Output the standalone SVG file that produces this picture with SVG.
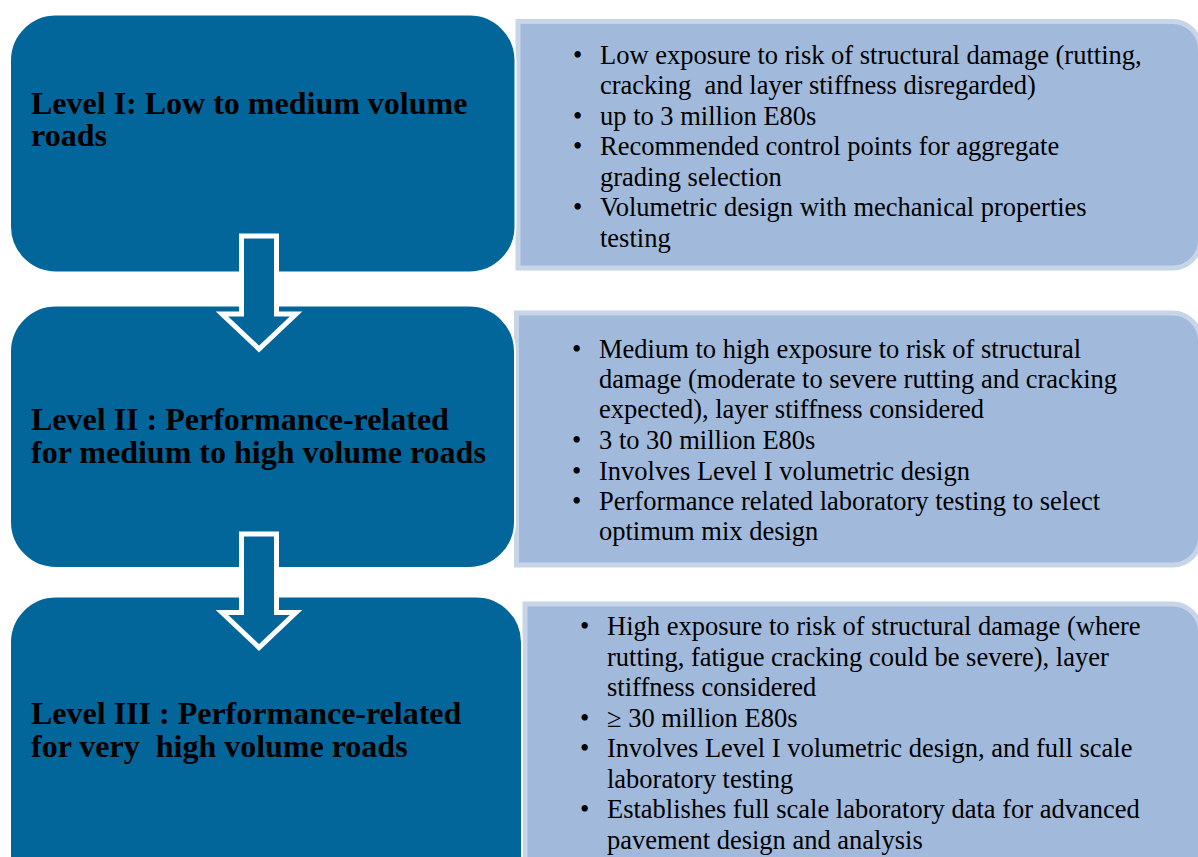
<svg xmlns="http://www.w3.org/2000/svg" width="1198" height="857" viewBox="0 0 1198 857">
  <style>
    .detail { fill: #a1b9da; stroke: #c8d4e8; stroke-width: 5; }
    .level { fill: #03669a; stroke: #ffffff; stroke-width: 2; }
    .title { font-family: "Liberation Serif", "Times New Roman", serif; font-weight: bold; font-size: 32px; fill: #000; white-space: pre; }
    .item { font-family: "Liberation Serif", "Times New Roman", serif; font-size: 26.5px; fill: #000; white-space: pre; }
    .arrow { fill: #03669a; stroke: #ffffff; stroke-width: 5; stroke-linejoin: miter; }
  </style>

  <rect width="1198" height="857" fill="#ffffff"/>

  <!-- Level I -->
  <g id="level1-details">
    <path class="detail" d="M518,21.5 H1172 A28,28 0 0 1 1200.5,49.5 V240 A28,28 0 0 1 1172,268 H518 Z"/>
    <g class="item">
      <text x="573" y="63.5">•</text>
      <text x="600" y="63.5">Low exposure to risk of structural damage (rutting,</text>
      <text x="600" y="94" xml:space="preserve">cracking  and layer stiffness disregarded)</text>
      <text x="573" y="124.5">•</text>
      <text x="600" y="124.5">up to 3 million E80s</text>
      <text x="573" y="155">•</text>
      <text x="600" y="155">Recommended control points for aggregate</text>
      <text x="600" y="185.5">grading selection</text>
      <text x="573" y="216">•</text>
      <text x="600" y="216">Volumetric design with mechanical properties</text>
      <text x="600" y="246.5">testing</text>
    </g>
  </g>
  <g id="level1">
    <rect class="level" x="10" y="14.5" width="505.5" height="258" rx="46" ry="46"/>
    <text class="title" x="31" y="114">Level I: Low to medium volume</text>
    <text class="title" x="31" y="146">roads</text>
  </g>

  <!-- Level II -->
  <g id="level2-details">
    <path class="detail" d="M516.5,313 H1172 A28,28 0 0 1 1200.5,341 V537 A28,28 0 0 1 1172,565 H516.5 Z"/>
    <g class="item">
      <text x="572" y="357.5">•</text>
      <text x="599" y="357.5">Medium to high exposure to risk of structural</text>
      <text x="599" y="388">damage (moderate to severe rutting and cracking</text>
      <text x="599" y="418">expected), layer stiffness considered</text>
      <text x="572" y="448.5">•</text>
      <text x="599" y="448.5">3 to 30 million E80s</text>
      <text x="572" y="479.5">•</text>
      <text x="599" y="479.5">Involves Level I volumetric design</text>
      <text x="572" y="510">•</text>
      <text x="599" y="510">Performance related laboratory testing to select</text>
      <text x="599" y="540">optimum mix design</text>
    </g>
  </g>
  <g id="level2">
    <rect class="level" x="10" y="305.5" width="505" height="262.5" rx="46" ry="46"/>
    <text class="title" x="31" y="430">Level II : Performance-related</text>
    <text class="title" x="31" y="463">for medium to high volume roads</text>
  </g>

  <!-- Level III -->
  <g id="level3-details">
    <path class="detail" d="M525,604 H1172 A28,28 0 0 1 1200.5,632 V900 H525 Z"/>
    <g class="item">
      <text x="580" y="635">•</text>
      <text x="607" y="635">High exposure to risk of structural damage (where</text>
      <text x="607" y="665.5">rutting, fatigue cracking could be severe), layer</text>
      <text x="607" y="696">stiffness considered</text>
      <text x="580" y="726.5">•</text>
      <text x="607" y="726.5">≥ 30 million E80s</text>
      <text x="580" y="757">•</text>
      <text x="607" y="757">Involves Level I volumetric design, and full scale</text>
      <text x="607" y="787.5">laboratory testing</text>
      <text x="580" y="818">•</text>
      <text x="607" y="818">Establishes full scale laboratory data for advanced</text>
      <text x="607" y="848.5">pavement design and analysis</text>
    </g>
  </g>
  <g id="level3">
    <rect class="level" x="10" y="596.5" width="512" height="320" rx="46" ry="46"/>
    <text class="title" x="31" y="723.5">Level III : Performance-related</text>
    <text class="title" x="31" y="756.5" xml:space="preserve">for very  high volume roads</text>
  </g>

  <!-- Connectors: block arrows between levels -->
  <g id="connectors">
    <path class="arrow" d="M241.5,236 H276.5 V314 H296 L259,349 L222,314 H241.5 Z"/>
    <path class="arrow" d="M241.5,534 H276.5 V612.5 H296 L259,647.5 L222,612.5 H241.5 Z"/>
  </g>
</svg>
